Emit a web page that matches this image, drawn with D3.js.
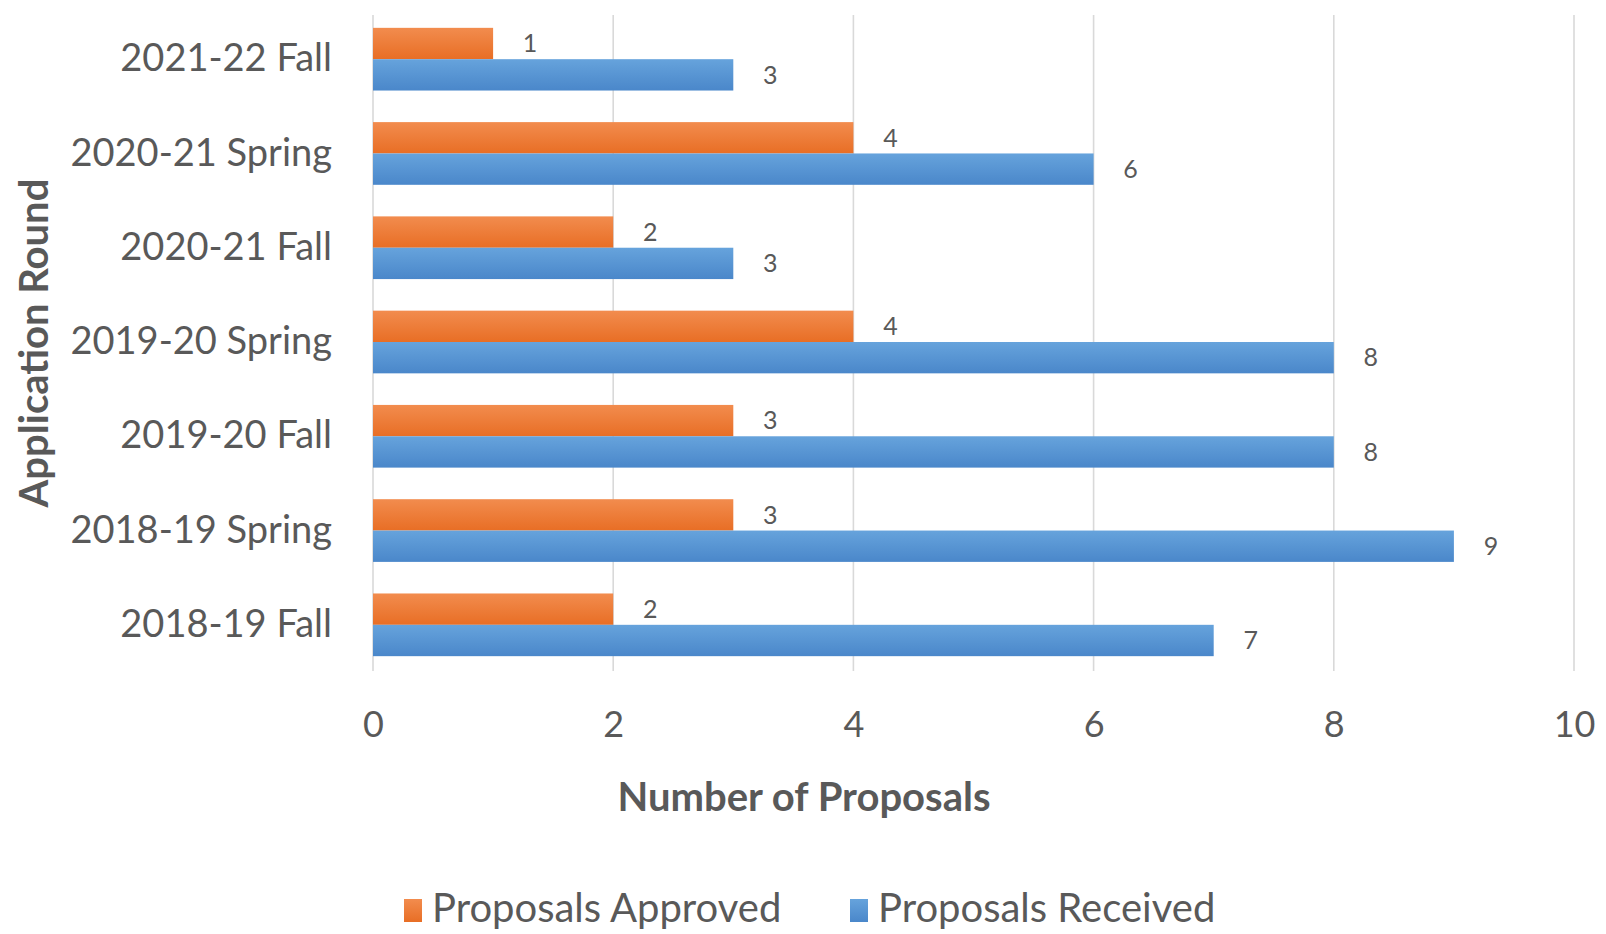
<!DOCTYPE html>
<html>
<head>
<meta charset="utf-8">
<script src="https://cdn.jsdelivr.net/npm/d3@7"></script>
<style>
  html, body { margin: 0; padding: 0; background: #ffffff; }
  svg { display: block; }
  text { font-family: Lato, "Open Sans", sans-serif; fill: #595959; }
</style>
</head>
<body>
<svg id="chart" width="1606" height="934"></svg>
<script>
// Application rounds, listed top to bottom
const rounds = [
  "2021-22 Fall",
  "2020-21 Spring",
  "2020-21 Fall",
  "2019-20 Spring",
  "2019-20 Fall",
  "2018-19 Spring",
  "2018-19 Fall"
];
const approved = [1, 4, 2, 4, 3, 3, 2];
const received = [3, 6, 3, 8, 8, 9, 7];
const seriesNames = ["Proposals Approved", "Proposals Received"];
const xTicks = [0, 2, 4, 6, 8, 10];

const svg = d3.select("#chart");
const plotLeft = 373, plotRight = 1574, plotTop = 12, plotBottom = 672;

const x = d3.scaleLinear().domain([0, 10]).range([plotLeft, plotRight]);
const y = d3.scaleBand().domain(rounds).range([plotTop, plotBottom])
  .paddingInner(0.335).paddingOuter(0.168);
const sub = d3.scaleBand().domain(seriesNames).range([0, y.bandwidth()]);

const colors = { "Proposals Approved": ["#F28C4E", "#E86E25"], "Proposals Received": ["#66A3DC", "#4A87CA"] };
const defs = svg.append("defs");
seriesNames.forEach((s, i) => {
  const g = defs.append("linearGradient").attr("id", "grad" + i)
    .attr("x1", 0).attr("y1", 0).attr("x2", 0).attr("y2", 1);
  g.append("stop").attr("offset", "0%").attr("stop-color", colors[s][0]);
  g.append("stop").attr("offset", "100%").attr("stop-color", colors[s][1]);
});

// vertical gridlines
const gridTop = 15, gridBottom = 671;
svg.append("g").selectAll("line").data(xTicks).join("line")
  .attr("x1", d => x(d)).attr("x2", d => x(d))
  .attr("y1", gridTop).attr("y2", gridBottom)
  .attr("stroke", "#D9D9D9").attr("stroke-width", 1.6);

// x tick labels via axis
const xAxis = svg.append("g").attr("transform", `translate(0,${gridBottom})`)
  .call(d3.axisBottom(x).tickValues(xTicks).tickSize(0).tickPadding(40));
xAxis.select(".domain").remove();
xAxis.selectAll("text").attr("font-size", 36).attr("fill", "#595959")
  .style("font-family", "Lato, 'Open Sans', sans-serif");

// category labels via axis
const yAxis = svg.append("g").attr("transform", `translate(${plotLeft},0)`)
  .call(d3.axisLeft(y).tickSize(0).tickPadding(41));
yAxis.select(".domain").remove();
yAxis.selectAll("text").attr("font-size", 38).attr("fill", "#595959")
  .style("font-family", "Lato, 'Open Sans', sans-serif");

// bars
const rows = rounds.map((r, i) => ({ round: r, vals: [approved[i], received[i]] }));
const groups = svg.append("g").selectAll("g").data(rows).join("g")
  .attr("transform", d => `translate(0,${y(d.round)})`);

groups.selectAll("rect").data(d => d.vals.map((v, i) => ({ v, s: seriesNames[i], i })))
  .join("rect")
  .attr("x", x(0))
  .attr("y", d => sub(d.s))
  .attr("width", d => x(d.v) - x(0))
  .attr("height", sub.bandwidth())
  .attr("fill", d => `url(#grad${d.i})`);

// data labels
groups.selectAll("text.val").data(d => d.vals.map((v, i) => ({ v, s: seriesNames[i] })))
  .join("text").attr("class", "val")
  .attr("x", d => x(d.v) + 37)
  .attr("y", d => sub(d.s) + sub.bandwidth() / 2)
  .attr("dy", "0.35em")
  .attr("text-anchor", "middle")
  .attr("font-size", 25)
  .text(d => d.v);

// axis titles
svg.append("text").attr("x", 804).attr("y", 797).attr("dy", "0.35em")
  .attr("text-anchor", "middle").attr("font-size", 40).attr("font-weight", 700)
  .text("Number of Proposals");
svg.append("text").attr("transform", "translate(34,343) rotate(-90)").attr("dy", "0.35em")
  .attr("text-anchor", "middle").attr("font-size", 40).attr("font-weight", 700)
  .text("Application Round");

// legend
const legend = svg.append("g").attr("transform", "translate(0,908)");
const legendX = [404, 850];
seriesNames.forEach((s, i) => {
  const g = legend.append("g").attr("transform", `translate(${legendX[i]},0)`);
  g.append("rect").attr("x", 0).attr("y", -9).attr("width", 18).attr("height", 23)
    .attr("fill", `url(#grad${i})`);
  g.append("text").attr("x", 28).attr("y", 0).attr("dy", "0.35em")
    .attr("font-size", 40).text(s);
});
</script>
</body>
</html>
